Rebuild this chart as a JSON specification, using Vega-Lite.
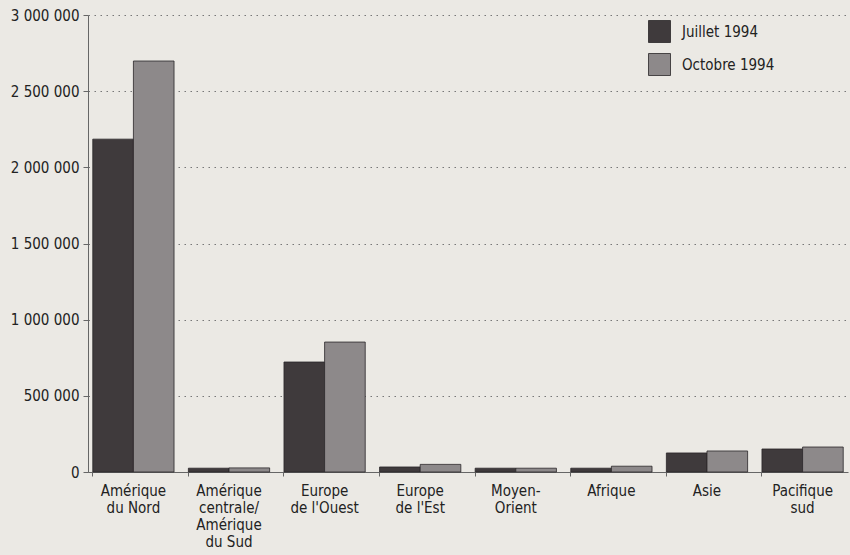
{
  "$schema": "https://vega.github.io/schema/vega-lite/v6.json",
  "autosize": "none",
  "width": 760,
  "height": 457,
  "padding": {"left": 88, "top": 15, "right": 2, "bottom": 83},
  "background": "#ebe9e4",
  "config": {
    "view": {"stroke": null},
    "font": "Liberation Sans Narrow, DejaVu Sans Condensed, sans-serif",
    "locale": {"number": {"decimal": ",", "thousands": " ", "grouping": [3], "currency": ["", " €"]}}
  },
  "data": {
    "values": [
      {"region": "Amérique|du Nord", "period": "Juillet 1994", "value": 2185000},
      {"region": "Amérique|du Nord", "period": "Octobre 1994", "value": 2698000},
      {"region": "Amérique|centrale/|Amérique|du Sud", "period": "Juillet 1994", "value": 25000},
      {"region": "Amérique|centrale/|Amérique|du Sud", "period": "Octobre 1994", "value": 27000},
      {"region": "Europe|de l'Ouest", "period": "Juillet 1994", "value": 722000},
      {"region": "Europe|de l'Ouest", "period": "Octobre 1994", "value": 853000},
      {"region": "Europe|de l'Est", "period": "Juillet 1994", "value": 33000},
      {"region": "Europe|de l'Est", "period": "Octobre 1994", "value": 50000},
      {"region": "Moyen-|Orient", "period": "Juillet 1994", "value": 25000},
      {"region": "Moyen-|Orient", "period": "Octobre 1994", "value": 25000},
      {"region": "Afrique", "period": "Juillet 1994", "value": 25000},
      {"region": "Afrique", "period": "Octobre 1994", "value": 38000},
      {"region": "Asie", "period": "Juillet 1994", "value": 125000},
      {"region": "Asie", "period": "Octobre 1994", "value": 138000},
      {"region": "Pacifique|sud", "period": "Juillet 1994", "value": 151000},
      {"region": "Pacifique|sud", "period": "Octobre 1994", "value": 164000}
    ]
  },
  "mark": {"type": "bar", "stroke": "#2a2628", "strokeWidth": 0.8},
  "encoding": {
    "x": {
      "field": "region",
      "type": "nominal",
      "sort": null,
      "title": null,
      "scale": {"paddingInner": 0.15, "paddingOuter": 0.05},
      "axis": {
        "labelAngle": 0,
        "labelExpr": "split(datum.label, '|')",
        "labelFontSize": 15,
        "labelColor": "#222",
        "labelLineHeight": 17,
        "labelPadding": 7,
        "domainColor": "#666",
        "tickColor": "#666",
        "tickSize": 4,
        "bandPosition": 0,
        "labelBound": false
      }
    },
    "xOffset": {"field": "period", "type": "nominal"},
    "y": {
      "field": "value",
      "type": "quantitative",
      "title": null,
      "scale": {"domain": [0, 3000000], "nice": false},
      "axis": {
        "values": [0, 500000, 1000000, 1500000, 2000000, 2500000, 3000000],
        "format": ",d",
        "labelFontSize": 15,
        "labelColor": "#222",
        "labelPadding": 4,
        "domainColor": "#666",
        "tickColor": "#666",
        "tickSize": 5,
        "gridColor": "#777",
        "gridDash": [1.5, 4.5],
        "gridWidth": 1.2
      }
    },
    "color": {
      "field": "period",
      "type": "nominal",
      "title": null,
      "scale": {"domain": ["Juillet 1994", "Octobre 1994"], "range": ["#3f3a3c", "#8d898a"]},
      "legend": {
        "orient": "none",
        "legendX": 560,
        "legendY": 5,
        "symbolType": "square",
        "symbolSize": 484,
        "symbolStrokeColor": "#2a2628",
        "symbolStrokeWidth": 0.8,
        "labelFontSize": 15,
        "labelColor": "#222",
        "labelOffset": 11,
        "rowPadding": 6
      }
    }
  }
}
